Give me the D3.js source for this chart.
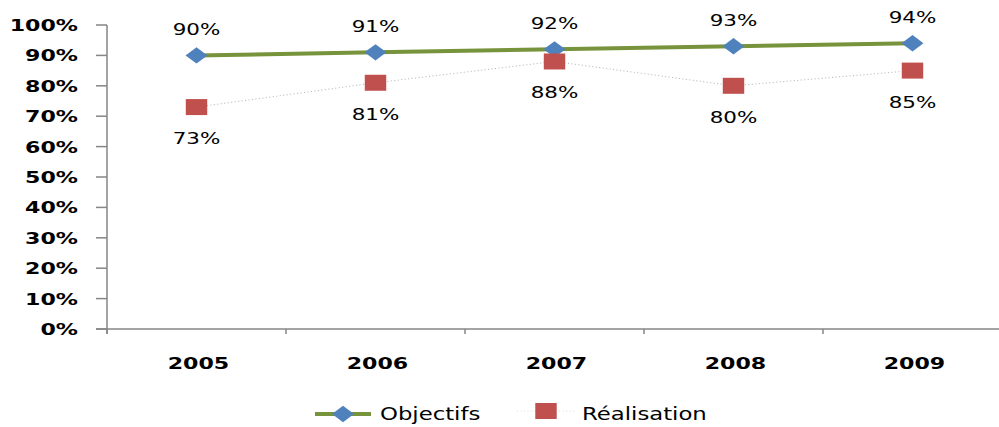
<!DOCTYPE html>
<html>
<head>
<meta charset="utf-8">
<script src="https://cdn.jsdelivr.net/npm/d3@7"></script>
<style>
  html, body { margin: 0; padding: 0; background: #fff; }
  svg { display: block; }
  text { font-family: "DejaVu Sans", Verdana, sans-serif; fill: #000; }
</style>
</head>
<body>
<svg id="chart" width="999" height="427"></svg>
<script>
// Chart data
const years = ["2005", "2006", "2007", "2008", "2009"];
const objectifs = [0.90, 0.91, 0.92, 0.93, 0.94];
const realisation = [0.73, 0.81, 0.88, 0.80, 0.85];
const yTicks = [0, 0.1, 0.2, 0.3, 0.4, 0.5, 0.6, 0.7, 0.8, 0.9, 1.0];
const seriesNames = ["Objectifs", "Réalisation"];

const W = 999, H = 427;
const SX = 1.34; // horizontal stretch applied to glyphs and markers

const svg = d3.select("#chart");

const x = d3.scaleBand().domain(years).range([107, 1002]).paddingInner(0).paddingOuter(0);
const y = d3.scaleLinear().domain([0, 1]).range([329, 25]);
const cx = d => x(d) + x.bandwidth() / 2;
const pct = d3.format(".0%");

const axisColor = "#868686";

// Stretched text helper
function label(g, tx, ty, str, opts) {
  return g.append("text")
    .attr("transform", `translate(${tx},${ty}) scale(${SX},1)`)
    .attr("text-anchor", opts.anchor || "middle")
    .attr("font-size", opts.size)
    .attr("font-weight", opts.weight || "normal")
    .text(str);
}

// Y axis
const yAxis = svg.append("g");
yAxis.append("line")
  .attr("x1", 107).attr("x2", 107)
  .attr("y1", y(1)).attr("y2", y(0) + 5)
  .attr("stroke", axisColor).attr("stroke-width", 1.5);
yAxis.selectAll("line.tick").data(yTicks).join("line")
  .attr("class", "tick")
  .attr("x1", 96).attr("x2", 107)
  .attr("y1", d => y(d)).attr("y2", d => y(d))
  .attr("stroke", axisColor).attr("stroke-width", 1.5);
yTicks.forEach(t => label(yAxis, 78, y(t) + 6, pct(t), { anchor: "end", size: 16.5, weight: "bold" }));

// X axis
const xAxis = svg.append("g");
xAxis.append("line")
  .attr("x1", 96).attr("x2", W)
  .attr("y1", y(0)).attr("y2", y(0))
  .attr("stroke", axisColor).attr("stroke-width", 1.5);
xAxis.selectAll("line.tick").data(years).join("line")
  .attr("class", "tick")
  .attr("x1", d => x(d)).attr("x2", d => x(d))
  .attr("y1", y(0)).attr("y2", y(0) + 5)
  .attr("stroke", axisColor).attr("stroke-width", 1.5);
years.forEach(yr => label(xAxis, cx(yr) + 2, 369, yr, { size: 16.5, weight: "bold" }));

// Series lines
const line = d3.line().x((d, i) => cx(years[i])).y(d => y(d));

svg.append("path")
  .datum(realisation)
  .attr("d", line)
  .attr("fill", "none")
  .attr("stroke", "#b0b0b0")
  .attr("stroke-width", 1)
  .attr("stroke-dasharray", "1,2.5");

svg.append("path")
  .datum(objectifs)
  .attr("d", line)
  .attr("fill", "none")
  .attr("stroke", "#77933c")
  .attr("stroke-width", 4);

// Markers
const diamond = d3.symbol(d3.symbolDiamond2, 170)();
const square = d3.symbol(d3.symbolSquare, 256)();

svg.append("g").selectAll("path").data(objectifs).join("path")
  .attr("d", diamond)
  .attr("transform", (d, i) => `translate(${cx(years[i])},${y(d)}) scale(${SX},1)`)
  .attr("fill", "#4f81bd");

svg.append("g").selectAll("path").data(realisation).join("path")
  .attr("d", square)
  .attr("transform", (d, i) => `translate(${cx(years[i])},${y(d)}) scale(${SX},1)`)
  .attr("fill", "#c0504d");

// Data labels
const labels = svg.append("g");
objectifs.forEach((v, i) => label(labels, cx(years[i]), y(v) - 20, pct(v), { size: 16 }));
realisation.forEach((v, i) => label(labels, cx(years[i]), y(v) + 37, pct(v), { size: 16 }));

// Legend
const legend = svg.append("g");
legend.append("line")
  .attr("x1", 315).attr("x2", 371).attr("y1", 414).attr("y2", 414)
  .attr("stroke", "#77933c").attr("stroke-width", 4);
legend.append("path").attr("d", diamond)
  .attr("transform", `translate(343,414) scale(${SX},1)`)
  .attr("fill", "#4f81bd");
label(legend, 380, 420, seriesNames[0], { anchor: "start", size: 17 });

legend.append("line")
  .attr("x1", 517).attr("x2", 575).attr("y1", 411).attr("y2", 411)
  .attr("stroke", "#dcdcdc").attr("stroke-width", 1)
  .attr("stroke-dasharray", "1,2.5");
legend.append("path").attr("d", square)
  .attr("transform", `translate(546,411) scale(${SX},1)`)
  .attr("fill", "#c0504d");
label(legend, 582, 420, seriesNames[1], { anchor: "start", size: 17 });
</script>
</body>
</html>
